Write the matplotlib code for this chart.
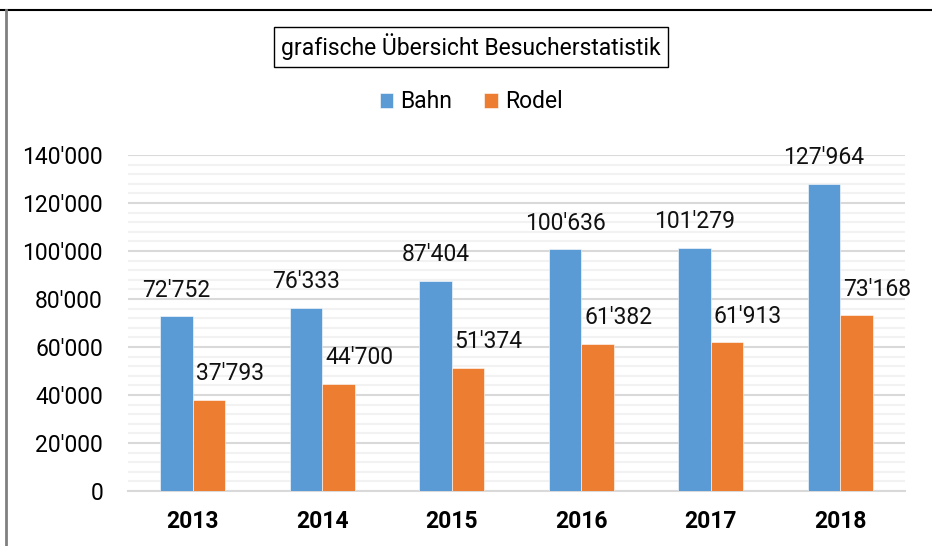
import matplotlib.pyplot as plt
from matplotlib.ticker import FuncFormatter, MultipleLocator
from matplotlib.lines import Line2D
import numpy as np

years = ['2013', '2014', '2015', '2016', '2017', '2018']
bahn = [72752, 76333, 87404, 100636, 101279, 127964]
rodel = [37793, 44700, 51374, 61382, 61913, 73168]

blue = '#5B9BD5'
orange = '#ED7D31'

plt.rcParams['font.family'] = ['Roboto', 'DejaVu Sans']

def swiss(v, pos=None):
    return '{:,}'.format(int(v)).replace(',', "'")

fig = plt.figure(figsize=(9.32, 5.46), dpi=100)
ax = fig.add_axes([128/932, 1-491/546, 777/932, (491-155)/546])

x = np.arange(len(years))
w = 0.25
b1 = ax.bar(x - w/2, bahn, w, color=blue, edgecolor='white', linewidth=0.4, label='Bahn', zorder=3)
b2 = ax.bar(x + w/2, rodel, w, color=orange, edgecolor='white', linewidth=0.4, label='Rodel', zorder=3)

# Excel put the Rodel labels slightly to the right of their bars
for bars, vals, shift in ((b1, bahn, 0.0), (b2, rodel, 0.16)):
    for rect, v in zip(bars, vals):
        ax.text(rect.get_x() + rect.get_width()/2 + shift, v + 6200, swiss(v),
                ha='center', va='bottom', fontsize=16.5, color='#111111')

ax.set_xlim(-0.5, len(years) - 0.5)
ax.set_ylim(0, 140000)
ax.yaxis.set_major_locator(MultipleLocator(20000))
ax.yaxis.set_minor_locator(MultipleLocator(4000))
ax.yaxis.set_major_formatter(FuncFormatter(swiss))
ax.grid(axis='y', which='major', color='#D9D9D9', linewidth=1.5, zorder=0)
ax.grid(axis='y', which='minor', color='#F2F2F2', linewidth=1.5, zorder=0)
ax.set_xticks(x)
ax.set_xticklabels(years, fontsize=16.5, fontweight='bold')
ax.tick_params(axis='y', labelsize=16.5, length=0, pad=18)
ax.tick_params(axis='x', length=0, pad=14)
ax.tick_params(axis='y', which='minor', length=0)
for s in ['top', 'right', 'left']:
    ax.spines[s].set_visible(False)
ax.spines['bottom'].set_color('#D9D9D9')
ax.spines['bottom'].set_linewidth(1.5)

fig.text(471/932, 1-47/546, 'grafische Übersicht Besucherstatistik', ha='center', va='center',
         fontsize=16.5, bbox=dict(boxstyle='square,pad=0.3', facecolor='white', edgecolor='black', linewidth=1))

fig.legend(handles=[b1, b2], labels=['Bahn', 'Rodel'], loc='center', bbox_to_anchor=(471/932, 1-102/546),
           ncol=2, frameon=False, fontsize=16.5, handlelength=0.6, handleheight=0.6,
           handletextpad=0.3, columnspacing=1.4)

fig.add_artist(Line2D([0, 1], [1-10/546, 1-10/546], color='black', linewidth=1.5, transform=fig.transFigure))
fig.add_artist(Line2D([5.5/932, 5.5/932], [0, 1-10/546], color='#808080', linewidth=2, transform=fig.transFigure))

fig.savefig('out.png', dpi=100)
